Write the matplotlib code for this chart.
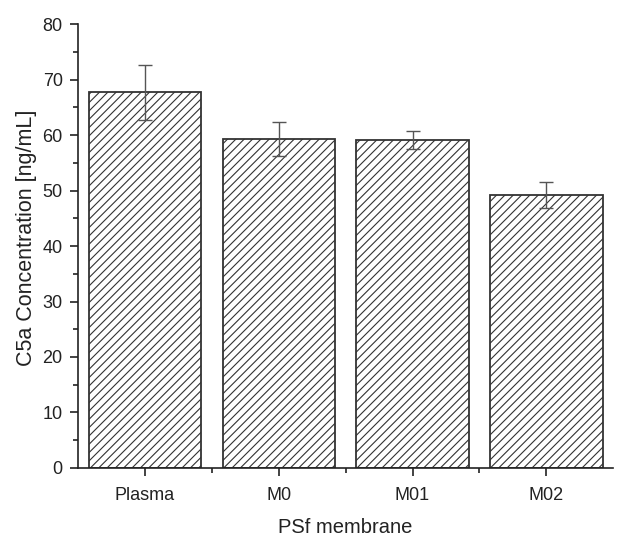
import matplotlib
matplotlib.use("Agg")
import matplotlib.pyplot as plt
import numpy as np

categories = ["Plasma", "M0", "M01", "M02"]
values = [67.7, 59.3, 59.1, 49.2]
errors = [5.0, 3.0, 1.7, 2.4]

plt.rcParams['font.family'] = ['Liberation Sans', 'DejaVu Sans']
plt.rcParams['hatch.linewidth'] = 0.8
plt.rcParams['hatch.color'] = '#333333'

fig = plt.figure(figsize=(6.29, 5.36), dpi=100)
ax = fig.add_axes([0.124, 0.127, 0.851, 0.828])
x = np.arange(len(categories))
ax.bar(x, values, width=0.84, color='white', edgecolor='#333333', linewidth=1.3, hatch='////', zorder=2)
ax.errorbar(x, values, yerr=errors, fmt='none', ecolor='#555555', elinewidth=1.0, capsize=5, capthick=1.0, zorder=3)

ax.set_xlim(-0.5, 3.5)
ax.set_ylim(0, 80)
ax.set_xticks(x)
ax.set_xticklabels(categories)
ax.set_xticks([0.5, 1.5, 2.5], minor=True)
ax.set_yticks(np.arange(0, 81, 10))
ax.set_yticks(np.arange(5, 80, 10), minor=True)
for s in ['top', 'right']:
    ax.spines[s].set_visible(False)
for s in ['left', 'bottom']:
    ax.spines[s].set_linewidth(1.2)
    ax.spines[s].set_color('#222222')
ax.tick_params(axis='both', which='major', direction='out', length=6, width=1.2, labelsize=13, colors='#222222', pad=5)
ax.tick_params(axis='x', which='major', pad=8)
ax.tick_params(axis='both', which='minor', direction='out', length=3.5, width=1.2, colors='#222222')
ax.set_xlabel('PSf membrane', fontsize=14.5, color='#222222', labelpad=10)
ax.set_ylabel('C5a Concentration [ng/mL]', fontsize=15.5, color='#222222')
ax.yaxis.set_label_coords(-0.077, 0.518)

fig.savefig('out.png', dpi=100)
